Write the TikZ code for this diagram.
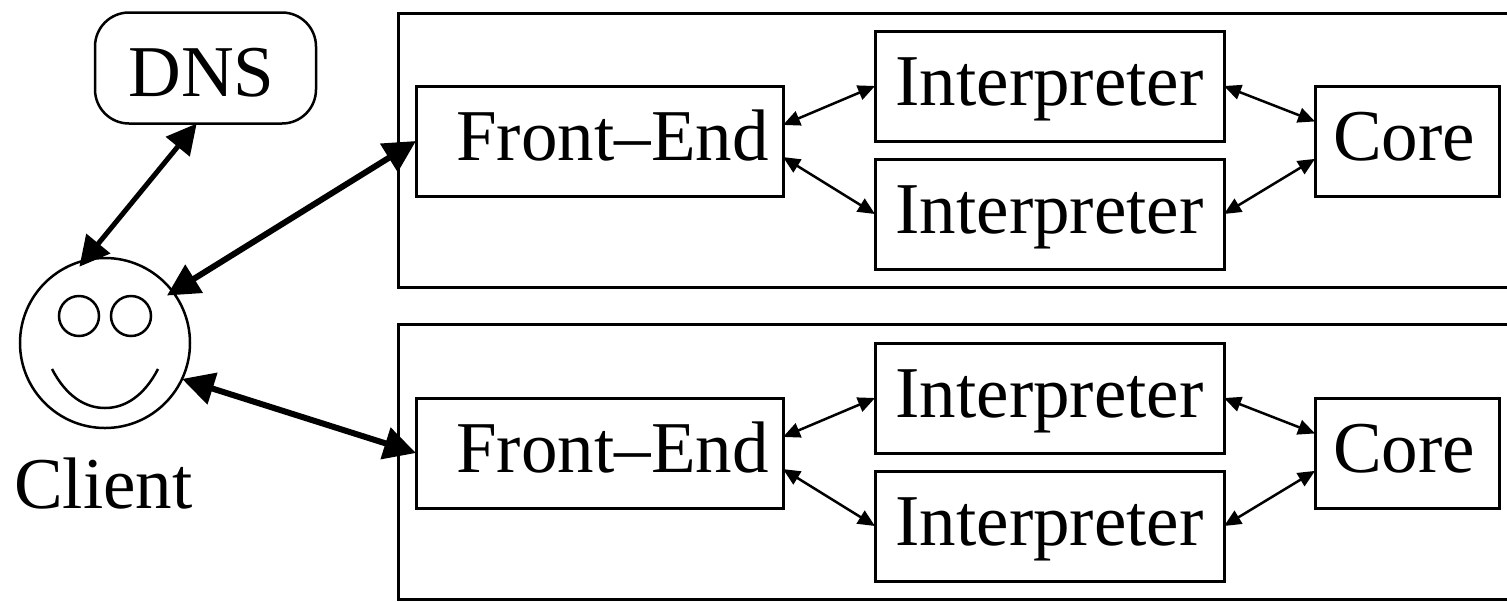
\documentclass[tikz,border=0pt]{standalone}
\usepackage{fontspec}
\setmainfont{Liberation Serif}
\usetikzlibrary{arrows.meta}
\tikzset{
  lab/.style={font=\fontsize{36.5pt}{40pt}\selectfont, inner sep=0pt, outer sep=0pt, text depth=0pt, text height=19pt},
  boxed/.style={lab, draw=black, line width=1.5pt, rectangle},
  febox/.style={boxed, minimum width=183.5pt, minimum height=55pt},
  ibox/.style={boxed, minimum width=174.5pt, minimum height=55pt},
  corebox/.style={boxed, minimum width=92pt, minimum height=55pt},
  dnsbox/.style={lab, text height=28pt, draw=black, line width=1.25pt, rounded corners=17pt, minimum width=110.5pt, minimum height=55.5pt},
  facec/.style={draw=black, line width=1.25pt, circle, inner sep=0pt, outer sep=0pt, minimum size=170*0.5pt},
  eye/.style={draw=black, line width=1.25pt, circle, inner sep=0pt, outer sep=0pt, minimum size=20pt},
  outerbox/.style={draw=black, line width=1.5pt},
  bigarrow/.style={{Triangle[length=16pt,width=16pt]}-{Triangle[length=16pt,width=16pt]}, line width=3pt, black},
  midarrow/.style={{Triangle[length=15pt,width=15pt]}-{Triangle[length=15pt,width=15pt]}, line width=2.5pt, black},
  smallarrow/.style={{Triangle[length=8.5pt,width=7.5pt]}-{Triangle[length=8.5pt,width=7.5pt]}, line width=1.25pt, black},
}
\begin{document}
\begin{tikzpicture}[x=0.5pt,y=-0.5pt]
\useasboundingbox (0,0) rectangle (1507,601);
% outer frames (open to the right edge)
\draw[outerbox] (1507,13) -- (398,13) -- (398,287) -- (1507,287);
\draw[outerbox] (1507,324) -- (398,324) -- (398,599) -- (1507,599);
% upper group
\node[febox] (fe1) at (599.5,141) {\hspace*{13pt}Front–End};
\node[ibox] (i1a) at (1049.5,86) {Interpreter};
\node[ibox] (i1b) at (1049.5,214) {Interpreter};
\node[corebox] (c1) at (1407,141) {\hspace*{-3pt}Core};
% lower group
\node[febox] (fe2) at (599.5,453) {\hspace*{13pt}Front–End};
\node[ibox] (i2a) at (1049.5,398) {Interpreter};
\node[ibox] (i2b) at (1049.5,526) {Interpreter};
\node[corebox] (c2) at (1407,453) {\hspace*{-3pt}Core};
% DNS and client
\node[dnsbox] (dns) at (205.5,68) {\hspace*{-4pt}DNS};
\node[facec] (face) at (105,343) {};
\node[eye] (eyeL) at (79,316) {};
\node[eye] (eyeR) at (131,316) {};
\draw[line width=1.25pt] (52,369) .. controls (66,396) and (85,408) .. (105,408) .. controls (125,408) and (144,396) .. (158,369);
\node[lab] (client) at (103.5,489) {Client};
% connectors
\draw[midarrow, shorten >=-4pt] (dns.261.4) -- (face.104);
\draw[bigarrow, shorten <=-3.5pt] (face.37.5) -- (fe1.west);
\draw[bigarrow] (face.-25) -- (fe2.west);
\foreach \f/\a/\b/\c in {fe1/i1a/i1b/c1, fe2/i2a/i2b/c2}{
  \draw[smallarrow] (\f.5.76) -- (\a.west);
  \draw[smallarrow] (\f.-5.76) -- (\b.west);
  \draw[smallarrow] (\a.east) -- (\c.168.6);
  \draw[smallarrow] (\b.east) -- (\c.191.4);
}
\end{tikzpicture}
\end{document}
